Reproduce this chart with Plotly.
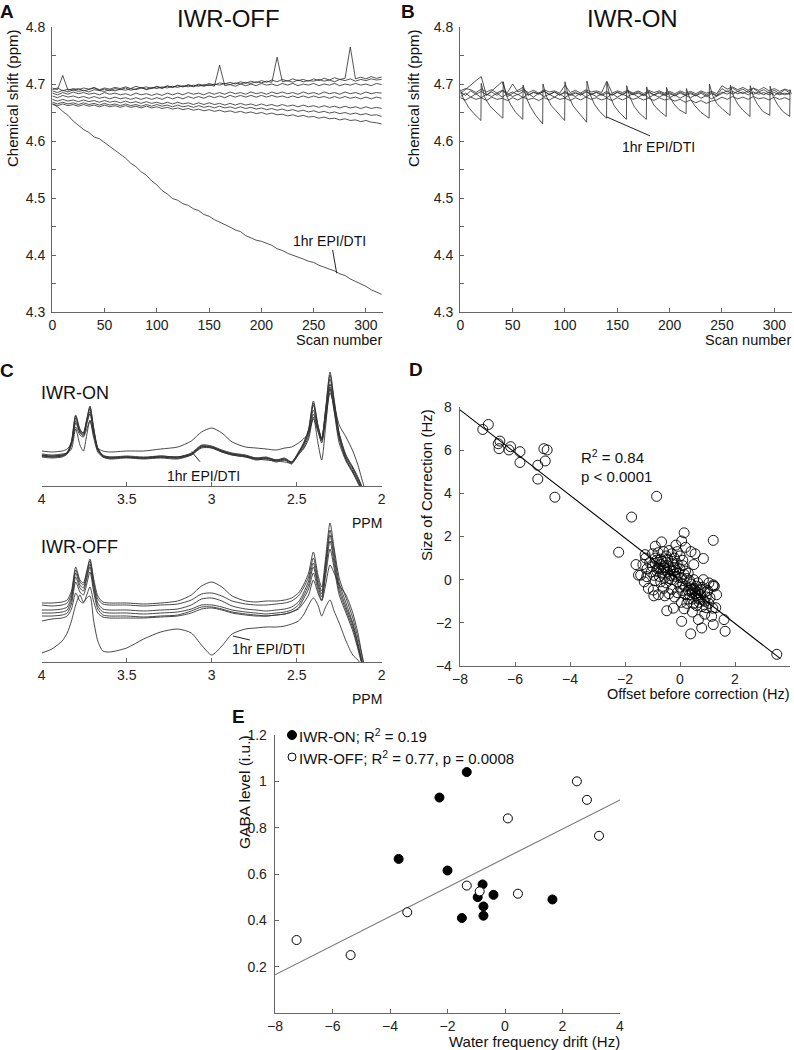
import plotly.graph_objects as go

# ---------------- Panel A (IWR-OFF) : chemical shift vs scan ----------------
a_scans = list(range(0, 316, 5))
off_t1 = [4.690,4.693,4.688,4.691,4.689,4.692,4.688,4.690,4.693,4.689,
          4.691,4.688,4.692,4.690,4.693,4.689,4.692,4.694,4.690,4.693,
          4.695,4.692,4.696,4.694,4.698,4.695,4.699,4.696,4.700,4.697,
          4.701,4.698,4.702,4.700,4.703,4.700,4.704,4.701,4.705,4.702,
          4.706,4.703,4.707,4.704,4.708,4.705,4.709,4.706,4.708,4.705,
          4.709,4.706,4.710,4.707,4.711,4.708,4.710,4.765,4.709,4.712,
          4.709,4.713,4.710,4.712]
off_t2 = [4.688,4.685,4.689,4.686,4.690,4.687,4.689,4.686,4.690,4.688,
          4.687,4.690,4.688,4.691,4.689,4.692,4.690,4.693,4.691,4.694,
          4.692,4.695,4.693,4.696,4.694,4.697,4.695,4.698,4.696,4.699,
          4.697,4.700,4.698,4.701,4.699,4.702,4.700,4.703,4.701,4.704,
          4.702,4.705,4.703,4.747,4.704,4.706,4.703,4.707,4.704,4.706,
          4.705,4.708,4.705,4.707,4.704,4.708,4.706,4.709,4.705,4.708,
          4.706,4.709,4.707,4.708]
off_t3 = [4.693,4.690,4.715,4.689,4.692,4.690,4.693,4.691,4.694,4.690,
          4.693,4.691,4.694,4.692,4.695,4.692,4.696,4.693,4.695,4.692,
          4.696,4.693,4.697,4.694,4.697,4.695,4.698,4.695,4.698,4.696,
          4.699,4.696,4.733,4.697,4.699,4.696,4.700,4.697,4.700,4.697,
          4.701,4.698,4.700,4.697,4.701,4.698,4.701,4.697,4.700,4.698,
          4.701,4.697,4.700,4.698,4.701,4.697,4.700,4.698,4.701,4.698,
          4.700,4.697,4.701,4.699]
off_t4 = [4.684,4.681,4.685,4.682,4.686,4.683,4.685,4.682,4.684,4.681,
          4.685,4.682,4.684,4.681,4.683,4.680,4.684,4.681,4.683,4.680,
          4.683,4.680,4.684,4.681,4.684,4.681,4.685,4.682,4.684,4.681,
          4.685,4.682,4.685,4.682,4.686,4.683,4.685,4.682,4.686,4.683,
          4.685,4.682,4.686,4.683,4.686,4.683,4.685,4.682,4.686,4.683,
          4.685,4.682,4.686,4.683,4.685,4.682,4.686,4.683,4.685,4.682,
          4.686,4.683,4.685,4.684]
off_t5 = [4.679,4.676,4.680,4.677,4.679,4.676,4.678,4.675,4.678,4.675,
          4.677,4.674,4.677,4.674,4.676,4.673,4.676,4.673,4.676,4.673,
          4.676,4.673,4.677,4.674,4.677,4.674,4.678,4.675,4.678,4.675,
          4.679,4.676,4.679,4.676,4.680,4.677,4.680,4.677,4.680,4.677,
          4.680,4.677,4.680,4.677,4.679,4.676,4.679,4.676,4.679,4.676,
          4.679,4.676,4.678,4.675,4.678,4.675,4.678,4.675,4.677,4.674,
          4.677,4.674,4.677,4.675]
off_t6 = [4.673,4.670,4.673,4.670,4.672,4.669,4.672,4.669,4.671,4.668,
          4.671,4.668,4.670,4.667,4.670,4.667,4.669,4.666,4.669,4.666,
          4.668,4.665,4.668,4.665,4.668,4.665,4.667,4.664,4.667,4.664,
          4.667,4.664,4.666,4.663,4.666,4.663,4.666,4.663,4.665,4.662,
          4.665,4.662,4.664,4.661,4.664,4.661,4.663,4.660,4.663,4.660,
          4.662,4.659,4.662,4.659,4.661,4.658,4.661,4.658,4.660,4.657,
          4.660,4.657,4.659,4.657]
off_t7 = [4.668,4.665,4.668,4.665,4.667,4.664,4.667,4.664,4.666,4.663,
          4.666,4.663,4.665,4.662,4.665,4.662,4.664,4.661,4.664,4.661,
          4.664,4.661,4.663,4.660,4.663,4.660,4.662,4.659,4.662,4.659,
          4.661,4.658,4.661,4.658,4.660,4.657,4.660,4.657,4.659,4.656,
          4.658,4.655,4.657,4.654,4.656,4.653,4.655,4.652,4.654,4.651,
          4.653,4.650,4.652,4.649,4.651,4.648,4.650,4.647,4.649,4.646,
          4.648,4.645,4.646,4.643]
off_t8 = [4.665,4.662,4.665,4.662,4.664,4.661,4.664,4.661,4.663,4.660,
          4.663,4.660,4.662,4.659,4.662,4.659,4.661,4.658,4.661,4.658,
          4.660,4.657,4.659,4.656,4.658,4.655,4.657,4.654,4.656,4.653,
          4.655,4.652,4.654,4.651,4.653,4.650,4.652,4.649,4.651,4.648,
          4.650,4.647,4.649,4.646,4.647,4.644,4.646,4.643,4.645,4.642,
          4.643,4.640,4.642,4.639,4.640,4.637,4.639,4.636,4.637,4.634,
          4.636,4.633,4.632,4.630]
off_drift = [4.665,4.660,4.652,4.645,4.635,4.628,4.620,4.615,4.607,4.604,
             4.597,4.590,4.583,4.576,4.570,4.561,4.555,4.546,4.540,4.530,
             4.523,4.513,4.507,4.499,4.496,4.490,4.487,4.481,4.478,4.471,
             4.468,4.462,4.458,4.453,4.449,4.444,4.441,4.434,4.430,4.426,
             4.424,4.420,4.417,4.411,4.408,4.403,4.400,4.397,4.393,4.389,
             4.387,4.382,4.379,4.375,4.372,4.367,4.364,4.358,4.354,4.349,
             4.345,4.339,4.335,4.331]

# ---------------- Panel B (IWR-ON) ----------------
on_t1 = [4.686,4.680,4.688,4.682,4.687,4.681,4.686,4.680,4.688,4.682,
         4.686,4.681,4.687,4.680,4.686,4.682,4.688,4.681,4.686,4.680,
         4.687,4.682,4.686,4.680,4.688,4.681,4.686,4.682,4.687,4.680,
         4.686,4.681,4.688,4.682,4.686,4.680,4.687,4.681,4.686,4.682,
         4.685,4.680,4.686,4.681,4.685,4.680,4.686,4.681,4.685,4.680,
         4.692,4.686,4.693,4.687,4.691,4.685,4.692,4.686,4.690,4.684,
         4.689,4.683,4.690,4.684]
on_t2 = [4.678,4.684,4.677,4.683,4.676,4.682,4.678,4.684,4.677,4.683,
         4.678,4.682,4.676,4.683,4.677,4.684,4.678,4.682,4.677,4.683,
         4.676,4.682,4.678,4.684,4.677,4.683,4.678,4.682,4.676,4.683,
         4.677,4.682,4.678,4.683,4.677,4.682,4.676,4.681,4.677,4.682,
         4.676,4.681,4.675,4.680,4.676,4.681,4.675,4.680,4.674,4.679,
         4.683,4.688,4.682,4.687,4.683,4.688,4.682,4.686,4.681,4.686,
         4.680,4.685,4.681,4.684]
on_t3 = [4.676,4.672,4.677,4.673,4.676,4.671,4.677,4.673,4.675,4.671,
         4.676,4.672,4.677,4.673,4.675,4.671,4.676,4.672,4.677,4.673,
         4.675,4.671,4.676,4.672,4.677,4.673,4.676,4.672,4.675,4.671,
         4.676,4.672,4.677,4.673,4.676,4.672,4.675,4.671,4.676,4.672,
         4.674,4.670,4.673,4.668,4.672,4.667,4.671,4.666,4.670,4.672,
         4.677,4.673,4.678,4.674,4.677,4.673,4.678,4.674,4.676,4.672,
         4.677,4.673,4.676,4.672]
on_t4 = [4.688,4.692,4.690,4.685,4.691,4.686,4.690,4.684,4.689,4.685,
         4.700,4.686,4.690,4.685,4.689,4.684,4.690,4.686,4.688,4.684,
         4.698,4.685,4.689,4.684,4.690,4.686,4.688,4.685,4.705,4.684,
         4.688,4.685,4.689,4.684,4.688,4.683,4.689,4.685,4.688,4.684,
         4.687,4.683,4.688,4.684,4.687,4.683,4.688,4.684,4.687,4.683,
         4.697,4.691,4.695,4.690,4.694,4.689,4.693,4.689,4.694,4.688,
         4.692,4.687,4.691,4.688]
on_t5 = [4.683,4.690,4.698,4.706,4.713,4.680,4.688,4.696,4.704,4.678,
         4.684,4.689,4.694,4.681,4.685,4.683,4.687,4.682,4.686,4.681,
         4.685,4.680,4.684,4.681,4.686,4.682,4.685,4.680,4.684,4.681,
         4.685,4.682,4.686,4.681,4.684,4.680,4.685,4.681,4.684,4.680,
         4.683,4.679,4.684,4.680,4.683,4.679,4.684,4.678,4.683,4.679,
         4.686,4.682,4.687,4.683,4.686,4.681,4.686,4.682,4.685,4.681,
         4.685,4.681,4.684,4.682]
on_epi_x = [0, 3, 8, 13, 19.7,
            20, 23, 28, 34, 40.7,
            41, 44, 48, 53, 59.7,
            60, 63, 67, 72, 78.7,
            79, 82, 87, 93, 99.7,
            100, 103, 108, 114, 120.7,
            121, 124, 128, 133, 139.7,
            140, 143, 147, 152, 158.7,
            159, 162, 166, 171, 177.7,
            178, 181, 185, 190, 196.7,
            197, 200, 204, 209, 215.7,
            216, 219, 224, 230, 237.7,
            238, 241, 245, 251, 257.7,
            258, 261, 265, 270, 276.7,
            277, 280, 284, 289, 295.7,
            296, 299, 303, 308, 314.7,
            315, 316.5]
on_epi_y = [4.690, 4.674, 4.659, 4.648, 4.636,
            4.701, 4.678, 4.662, 4.651, 4.640,
            4.704, 4.680, 4.664, 4.650, 4.638,
            4.698, 4.676, 4.660, 4.645, 4.630,
            4.700, 4.679, 4.662, 4.650, 4.636,
            4.704, 4.680, 4.661, 4.648, 4.633,
            4.705, 4.682, 4.665, 4.652, 4.640,
            4.703, 4.678, 4.662, 4.650, 4.638,
            4.697, 4.677, 4.661, 4.649, 4.638,
            4.695, 4.677, 4.663, 4.653, 4.643,
            4.694, 4.678, 4.665, 4.655, 4.648,
            4.692, 4.676, 4.662, 4.650, 4.640,
            4.700, 4.680, 4.666, 4.655, 4.645,
            4.698, 4.679, 4.665, 4.654, 4.643,
            4.697, 4.678, 4.664, 4.652, 4.645,
            4.696, 4.678, 4.664, 4.652, 4.643,
            4.690, 4.682]

# ---------------- Panel C : spectra (arbitrary intensity) ----------------
ppm_grid = [4.00, 3.94, 3.88, 3.85, 3.825, 3.80, 3.775, 3.755, 3.735, 3.716,
            3.695, 3.67, 3.64, 3.60, 3.50, 3.40, 3.30, 3.20, 3.12, 3.06,
            3.00, 2.94, 2.88, 2.80, 2.74, 2.68, 2.62, 2.57, 2.53, 2.49,
            2.46, 2.43, 2.402, 2.375, 2.353, 2.33, 2.304, 2.28, 2.25, 2.21,
            2.17, 2.14, 2.12, 2.10]
c_on_1 = [2, 1, 2, 5, 16, 42, 28, 24, 38, 51, 30, 9, 2, 0, 1, 0, 1, 0, 4, 12,
          11, 7, 4, 2, -1, 0, -3, -1, -5, 5, 14, 28, 56, 32, 19, 48, 85, 58, 24, 2,
          -10, -20, -28, -38]
c_on_2 = [1, 0, 1, 4, 14, 39, 26, 23, 36, 48, 28, 8, 1, -1, 0, -1, 0, -1, 3, 11,
          10, 6, 3, 1, -2, -1, -4, -2, -6, 4, 12, 26, 52, 30, 18, 45, 78, 54, 22, 0,
          -12, -22, -30, -40]
c_on_3 = [0, -1, 0, 3, 13, 36, 25, 22, 34, 45, 26, 7, 0, -2, -1, -2, -1, -2, 2, 10,
          9, 5, 2, 0, -3, -2, -5, -3, -7, 3, 11, 24, 47, 28, 17, 42, 73, 50, 20, -2,
          -14, -24, -32, -42]
c_on_4 = [2, 0, 1, 3, 12, 34, 24, 21, 33, 43, 25, 7, 1, -1, 0, -1, 0, -1, 2, 9,
          9, 5, 2, 0, -2, -3, -4, -5, -6, 2, 9, 21, 43, 26, 16, 40, 68, 47, 18, -3,
          -15, -25, -32, -42]
c_on_5 = [6, 5, 6, 8, 14, 30, 22, 20, 28, 36, 22, 9, 6, 5, 6, 6, 8, 10, 16, 25,
          29, 24, 15, 10, 9, 8, 7, 9, 10, 14, 18, 24, 38, 26, 14, 36, 64, 52, 32, 20,
          6, -8, -20, -32]
c_on_6 = [3, 2, 3, 4, 8, 28, 12, 6, 22, 37, 20, 5, 0, -1, 0, -1, 1, 0, 3, 10,
          10, 6, 3, 1, -1, -1, -3, -3, -5, 3, 8, 18, 40, 14, -3, 30, 70, 46, 14, -4,
          -16, -26, -33, -42]
c_on_7 = [1, 1, 2, 4, 15, 41, 27, 24, 37, 50, 29, 8, 1, 0, 0, -1, 0, 0, 3, 11,
          10, 6, 3, 1, -2, -1, -3, -2, -5, 4, 13, 27, 54, 31, 18, 47, 82, 56, 23, 1,
          -11, -21, -29, -39]
c_off_1 = [10, 10, 11, 13, 22, 46, 33, 30, 42, 54, 35, 17, 11, 10, 10, 9, 10, 12, 18, 27,
           31, 26, 17, 12, 11, 12, 12, 13, 15, 20, 28, 40, 61, 38, 26, 55, 90, 65, 35, 15,
           -5, -25, -40, -55]
c_off_2 = [8, 7, 8, 10, 19, 43, 31, 28, 40, 52, 32, 14, 9, 8, 8, 7, 8, 9, 13, 19,
           20, 17, 12, 9, 8, 8, 9, 10, 12, 17, 25, 36, 55, 34, 22, 50, 83, 60, 30, 10,
           -10, -30, -45, -60]
c_off_3 = [3, 3, 4, 6, 16, 40, 28, 25, 37, 49, 29, 10, 4, 3, 3, 2, 3, 4, 8, 14,
           15, 12, 7, 4, 3, 2, 3, 4, 6, 11, 20, 32, 50, 30, 19, 46, 78, 55, 26, 6,
           -12, -32, -46, -60]
c_off_4 = [0, 0, 1, 3, 13, 36, 25, 22, 34, 46, 26, 7, 1, 0, 0, -1, 0, 1, 4, 8,
           8, 6, 3, 1, 0, -1, 0, 1, 3, 8, 17, 28, 46, 27, 16, 42, 72, 50, 22, 3,
           -15, -34, -48, -60]
c_off_5 = [-3, -3, -2, 0, 9, 31, 21, 18, 29, 41, 22, 4, -2, -3, -3, -4, -3, -2, 2, 6,
           6, 4, 1, -1, -2, -3, -2, -1, 1, 5, 14, 24, 40, 23, 13, 37, 64, 45, 18, 0,
           -18, -36, -49, -60]
c_off_6 = [-8, -6, -5, -3, 4, 20, 12, 10, 18, 26, 12, 0, -4, -5, -5, -5, -4, -3, 0, 4,
           5, 3, 0, -2, -3, -3, -2, -1, 1, 4, 10, 18, 33, 20, 12, 28, 48, 40, 28, 18,
           0, -20, -38, -55]
c_off_epi = [-40, -36, -28, -20, -8, 8, 18, 11, 15, 17, -7, -28, -38, -39, -35, -26, -19, -16, -20, -32,
             -42, -33, -21, -16, -15, -14, -14, -13, -11, -8, -2, 8, 15, 8, -3, 6, 13, 2, -10, -28,
             -42, -47, -52, -60]

# ---------------- Panel D : correction vs offset ----------------
d_offset = [-7.17, -6.97, -6.61, -6.55, -6.58, -6.22, -6.16, -5.82, -5.82, -5.17, -5.17, -4.95, -4.83, -4.90, -4.55,
            -0.85, -1.76, -2.23, -1.27, 0.15, 1.21, 0.85, 0.06, -0.67, -0.90, 3.52,
            -1.51, -1.43, -1.21, -1.15, -0.97, -0.79, -0.48, -0.24, 0.06, 0.39, 0.79, 0.67, 1.15, 1.21, 1.60, 1.64, 1.19, 1.21, 1.33, 1.09, 1.20,
            -1.0, -0.9, -0.8, -0.7, -0.6, -0.5, -0.4, -0.3, -0.2, -0.1, 0.0, 0.1,
            -1.1, -1.0, -0.9, -0.8, -0.7, -0.6, -0.5, -0.4, -0.3, -0.2, -0.1, 0.0, 0.1, 0.2,
            -1.05, -0.95, -0.85, -0.75, -0.65, -0.55, -0.45, -0.35, -0.25, -0.15, -0.05, 0.05, 0.15, 0.25,
            -0.9, -0.7, -0.5, -0.3, -0.1, 0.1, -0.6, -0.45, -0.25, -0.35, -0.55, -0.15, -0.65, -0.85, -0.4, -0.2, -0.75, 0.3, 0.35, -1.2, -1.25, -1.35,
            0.2, 0.3, 0.4, 0.5, 0.6, 0.7, 0.8, 0.9, 0.35, 0.45, 0.55, 0.65, 0.75, 0.85, 0.95, 0.5, 0.6, 0.7, 0.8, 0.4, 0.55, 0.65, 0.75,
            0.45, 0.6, 0.7, 0.9, 1.0, 0.3, 0.2, 0.1, 0.0, -0.1, -0.2, -0.4, -0.6, 0.25, 0.05, 0.95, 1.05, 1.3, 1.25, 1.05, 0.85, 0.5, 0.65,
            -0.55, -0.3, 0.15, 0.45, 0.9, 0.2, -0.15, 0.4, 0.5, 0.55, -1.3, -1.6, -0.95]
d_correction = [6.96, 7.19, 6.30, 6.42, 6.07, 6.01, 6.16, 5.93, 5.43, 5.30, 4.66, 6.07, 6.01, 5.50, 3.82,
                3.86, 2.90, 1.27, 1.16, 2.17, 1.82, 0.98, 1.79, 1.75, 1.55, -3.46,
                0.21, 0.21, 0.14, -0.40, -0.48, -0.70, -1.44, -1.32, -1.93, -2.51, -2.24, -1.85, -1.70, -2.08, -1.85, -2.39, -1.32, -0.24, -0.70, -0.83, -0.30,
                1.2, 1.0, 1.25, 0.95, 1.3, 1.1, 1.35, 1.2, 1.0, 1.3, 1.1, 0.9,
                0.8, 0.6, 0.75, 0.5, 0.7, 0.45, 0.8, 0.6, 0.85, 0.55, 0.75, 0.5, 0.65, 0.4,
                0.35, 0.2, 0.4, 0.15, 0.3, 0.1, 0.35, 0.2, 0.4, 0.15, 0.3, 0.1, 0.25, 0.05,
                -0.05, -0.1, -0.15, 0.0, -0.1, -0.2, 0.6, 0.95, 0.7, 0.45, 0.55, 0.45, 0.85, 0.9, 0.05, 0.25, 0.55, 0.3, -0.05, 0.5, 1.0, 0.7,
                -0.3, -0.5, -0.2, -0.4, -0.3, -0.5, -0.35, -0.6, -0.7, -0.9, -0.65, -0.85, -0.7, -0.95, -0.8, -1.1, -1.2, -1.05, -1.25, -0.45, -0.5, -0.6, -0.45,
                -0.6, -0.75, -0.9, -1.0, -0.5, -0.9, -0.7, -0.5, -0.35, -0.6, -0.8, -0.65, -0.4, -1.1, -1.05, -1.3, -1.1, -1.3, -0.3, -0.15, 0.0, 0.0, -0.15,
                -0.75, -0.45, -1.35, -1.5, -1.6, 1.5, 1.6, 1.3, 0.7, 1.2, -0.1, 0.7, -0.75]
d_fit_x = [-8.0, 3.65]
d_fit_y = [7.87, -3.66]

# ---------------- Panel E : GABA vs drift ----------------
e_on_x = [-3.7, -2.28, -1.33, -2.0, -0.78, -0.95, -0.4, -0.75, -0.75, -1.5, 1.65]
e_on_y = [0.665, 0.93, 1.04, 0.615, 0.555, 0.50, 0.51, 0.46, 0.42, 0.41, 0.49]
e_off_x = [-7.25, -5.37, -3.4, -1.33, -0.88, 0.45, 0.1, 2.5, 2.85, 3.27]
e_off_y = [0.315, 0.25, 0.435, 0.55, 0.525, 0.515, 0.84, 1.0, 0.92, 0.765]
e_fit_x = [-8.0, 4.0]
e_fit_y = [0.165, 0.92]

# =====================================================================
W, H = 794, 1050
FONT = "Liberation Sans, Arial, sans-serif"
def X(px):
    return px / W
def Y(py):
    return 1 - py / H

fig = go.Figure()
LC = "#2a2a2a"

for tr in [off_t1, off_t2, off_t3, off_t4, off_t5, off_t6, off_t7, off_t8, off_drift]:
    fig.add_trace(go.Scatter(x=a_scans, y=tr, mode="lines", line=dict(color=LC, width=0.8),
                             xaxis="x", yaxis="y", hoverinfo="skip"))
for tr in [on_t1, on_t2, on_t3, on_t4, on_t5]:
    fig.add_trace(go.Scatter(x=a_scans, y=tr, mode="lines", line=dict(color=LC, width=0.8),
                             xaxis="x2", yaxis="y2", hoverinfo="skip"))
fig.add_trace(go.Scatter(x=on_epi_x, y=on_epi_y, mode="lines", line=dict(color=LC, width=0.8),
                         xaxis="x2", yaxis="y2", hoverinfo="skip"))

for tr in [c_on_5, c_on_6, c_on_4, c_on_3, c_on_2, c_on_7, c_on_1]:
    fig.add_trace(go.Scatter(x=ppm_grid, y=tr, mode="lines",
                             line=dict(color="#333", width=0.9, shape="spline", smoothing=0.7),
                             xaxis="x3", yaxis="y3", hoverinfo="skip"))
for tr in [c_off_1, c_off_2, c_off_3, c_off_4, c_off_5, c_off_6, c_off_epi]:
    fig.add_trace(go.Scatter(x=ppm_grid, y=tr, mode="lines",
                             line=dict(color="#333", width=0.9, shape="spline", smoothing=0.7),
                             xaxis="x4", yaxis="y4", hoverinfo="skip"))

fig.add_trace(go.Scatter(x=d_fit_x, y=d_fit_y, mode="lines", line=dict(color="black", width=1.1),
                         xaxis="x5", yaxis="y5", hoverinfo="skip"))
fig.add_trace(go.Scatter(x=d_offset, y=d_correction, mode="markers",
                         marker=dict(symbol="circle-open", size=10, color="black", line=dict(width=0.9)),
                         xaxis="x5", yaxis="y5", hoverinfo="skip"))

fig.add_trace(go.Scatter(x=e_fit_x, y=e_fit_y, mode="lines", line=dict(color="#777", width=1.1),
                         xaxis="x6", yaxis="y6", hoverinfo="skip"))
fig.add_trace(go.Scatter(x=e_on_x, y=e_on_y, mode="markers",
                         marker=dict(symbol="circle", size=9, color="black", line=dict(color="black", width=1)),
                         xaxis="x6", yaxis="y6", hoverinfo="skip"))
fig.add_trace(go.Scatter(x=e_off_x, y=e_off_y, mode="markers",
                         marker=dict(symbol="circle", size=9, color="white", line=dict(color="black", width=1)),
                         xaxis="x6", yaxis="y6", hoverinfo="skip"))

axis_common = dict(showline=True, linecolor="#666", linewidth=1.3, ticks="inside", ticklen=4,
                   tickcolor="#666", tickwidth=1, showgrid=False, zeroline=False, automargin=False,
                   tickfont=dict(family=FONT, size=14, color="#222"), fixedrange=True)

shift_vals = [4.3, 4.4, 4.5, 4.6, 4.7, 4.8]
shift_minor = dict(tickvals=[4.35, 4.45, 4.55, 4.65, 4.75], ticks="inside", ticklen=4,
                   tickcolor="#666", tickwidth=1, showgrid=False)
scan_vals = [0, 50, 100, 150, 200, 250, 300]
ppm_vals = [4, 3.5, 3, 2.5, 2]
ppm_text = ["4", "3.5", "3", "2.5", "2"]

fig.update_layout(
    template="none",
    width=W, height=H, margin=dict(l=0, r=0, t=0, b=0, autoexpand=False),
    paper_bgcolor="white", plot_bgcolor="rgba(0,0,0,0)", showlegend=False,
    font=dict(family=FONT, color="#222"),
    xaxis=dict(axis_common, domain=[X(52.3), X(383)], range=[0, 316.3], tickvals=scan_vals, anchor="y",
               ticklabelstandoff=0),
    yaxis=dict(axis_common, domain=[Y(312), Y(27)], range=[4.3, 4.8], tickvals=shift_vals,
               tickformat=".1f", minor=shift_minor, anchor="x", ticklabelstandoff=3),
    xaxis2=dict(axis_common, domain=[X(460.3), X(791.7)], range=[0, 316.6], tickvals=scan_vals, anchor="y2",
                ticklabelstandoff=0),
    yaxis2=dict(axis_common, domain=[Y(312), Y(27)], range=[4.3, 4.8], tickvals=shift_vals,
                tickformat=".1f", minor=shift_minor, anchor="x2", ticklabelstandoff=3),
    xaxis3=dict(axis_common, domain=[X(41.7), X(381.7)], range=[4, 2], tickvals=ppm_vals,
                ticktext=ppm_text, anchor="y3"),
    yaxis3=dict(domain=[Y(486), Y(370)], range=[-29, 87], visible=False, anchor="x3", fixedrange=True),
    xaxis4=dict(axis_common, domain=[X(41.7), X(381.7)], range=[4, 2], tickvals=ppm_vals,
                ticktext=ppm_text, anchor="y4"),
    yaxis4=dict(domain=[Y(662), Y(520)], range=[-49, 93], visible=False, anchor="x4", fixedrange=True),
    xaxis5=dict(axis_common, domain=[X(460), X(790)], range=[-8, 4], tickvals=[-8, -6, -4, -2, 0, 2, 4],
                anchor="y5", ticklabelstandoff=0),
    yaxis5=dict(axis_common, domain=[Y(666), Y(407)], range=[-4, 8], tickvals=[-4, -2, 0, 2, 4, 6, 8],
                anchor="x5", ticklabelstandoff=4),
    xaxis6=dict(axis_common, domain=[X(275), X(620)], range=[-8, 4], tickvals=[-8, -6, -4, -2, 0, 2, 4], anchor="y6"),
    yaxis6=dict(axis_common, domain=[Y(1013), Y(735)], range=[0, 1.2], tickvals=[0.2, 0.4, 0.6, 0.8, 1.0, 1.2],
                ticktext=["0.2", "0.4", "0.6", "0.8", "1", "1.2"], anchor="x6", ticklabelstandoff=4),
)

ann = []
def txt(px, py, s, size=15, xanchor="center", angle=0, bold=False):
    t = f"<b>{s}</b>" if bold else s
    ann.append(dict(x=X(px), y=Y(py), xref="paper", yref="paper", text=t, showarrow=False,
                    xanchor=xanchor, yanchor="middle", textangle=angle, borderpad=0,
                    font=dict(family=FONT, size=size, color="#111")))

# panel letters
txt(7, 11, "A", 19, bold=True)
txt(408, 11, "B", 19, bold=True)
txt(7, 370, "C", 19, bold=True)
txt(416, 369, "D", 19, bold=True)
txt(238, 716, "E", 19, bold=True)
# titles
txt(228, 19, "IWR-OFF", 24)
txt(632, 19, "IWR-ON", 24)
txt(40, 393, "IWR-ON", 18, xanchor="left")
txt(40, 547, "IWR-OFF", 18, xanchor="left")
# axis titles
txt(12, 98, "Chemical shift (ppm)", 15, angle=-90)
txt(413, 98, "Chemical shift (ppm)", 15, angle=-90)
txt(383, 340, "Scan number", 14.5, xanchor="right")
txt(792, 340, "Scan number", 14.5, xanchor="right")
txt(383, 523, "PPM", 14, xanchor="right")
txt(383, 699, "PPM", 14, xanchor="right")
txt(426, 485, "Size of Correction (Hz)", 15, angle=-90)
txt(791, 694, "Offset before correction (Hz)", 14.5, xanchor="right")
txt(244, 792, "GABA level (i.u.)", 15.5, angle=-90)
txt(621, 1041, "Water frequency drift (Hz)", 15, xanchor="right")
# stats text
txt(580, 457, "R<sup>2</sup> = 0.84", 15, xanchor="left")
txt(580, 476, "p &lt; 0.0001", 15, xanchor="left")
txt(298, 735, "IWR-ON; R<sup>2</sup> = 0.19", 15, xanchor="left")
txt(298, 757, "IWR-OFF; R<sup>2</sup> = 0.77, p = 0.0008", 15, xanchor="left")

# 1hr EPI/DTI labels in data coordinates
def dtxt(x, y, xr, yr, s):
    ann.append(dict(x=x, y=y, xref=xr, yref=yr, text=s, showarrow=False, xanchor="center",
                    yanchor="middle", borderpad=0, font=dict(family=FONT, size=14, color="#111")))
dtxt(265.2, 4.4246, "x", "y", "1hr EPI/DTI")
dtxt(189.6, 4.590, "x2", "y2", "1hr EPI/DTI")
dtxt(3.048, -18.5, "x3", "y3", "1hr EPI/DTI")
dtxt(2.663, -36, "x4", "y4", "1hr EPI/DTI")
fig.update_layout(annotations=ann)

shapes = [
    dict(type="line", xref="x", yref="y", x0=268.1, y0=4.409, x1=272.0, y1=4.368, line=dict(color="#222", width=1)),
    dict(type="line", xref="x2", yref="y2", x0=140.1, y0=4.642, x1=181.2, y1=4.609, line=dict(color="#222", width=1)),
    dict(type="line", xref="x3", yref="y3", x0=3.118, y0=5.3, x1=3.069, y1=-4.7, line=dict(color="#222", width=1)),
    dict(type="line", xref="x4", yref="y4", x0=2.875, y0=-23, x1=2.775, y1=-27, line=dict(color="#222", width=1)),
    # legend symbols for panel E
    dict(type="circle", xref="paper", yref="paper", xsizemode="pixel", ysizemode="pixel",
         xanchor=X(292), yanchor=Y(735), x0=-4.5, x1=4.5, y0=-4.5, y1=4.5,
         fillcolor="black", line=dict(color="black", width=1)),
    dict(type="circle", xref="paper", yref="paper", xsizemode="pixel", ysizemode="pixel",
         xanchor=X(292), yanchor=Y(757), x0=-4, x1=4, y0=-4, y1=4,
         fillcolor="white", line=dict(color="black", width=1)),
]
fig.update_layout(shapes=shapes)

fig.write_html("out.html", config={"displayModeBar": False, "staticPlot": True},
               post_script="document.body.style.margin='0px';")
